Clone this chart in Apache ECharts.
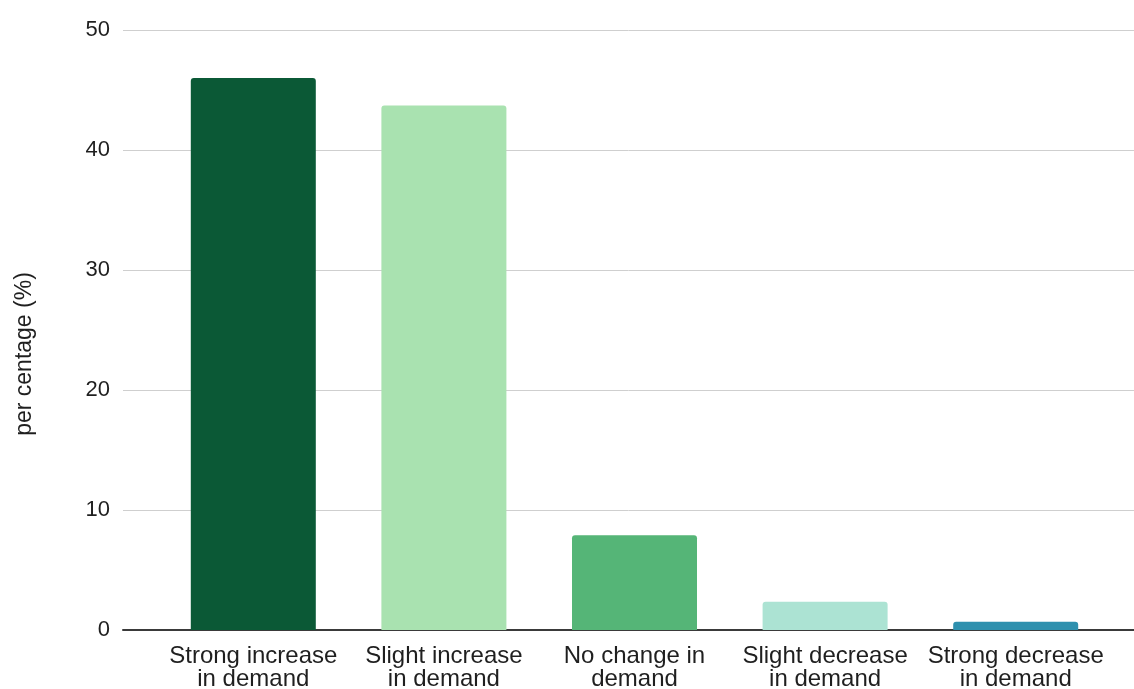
<!DOCTYPE html>
<html>
<head>
<meta charset="utf-8">
<script src="https://cdn.jsdelivr.net/npm/echarts@6/dist/echarts.min.js"></script>
<style>
  html, body { margin: 0; padding: 0; background: #fff; }
  #chart { width: 1134px; height: 689px; }
</style>
</head>
<body>
<div id="chart"></div>
<script>
// Change in demand, share of respondents (%)
const categories = [
  'Strong increase\nin demand',
  'Slight increase\nin demand',
  'No change in\ndemand',
  'Slight decrease\nin demand',
  'Strong decrease\nin demand'
];
const shares = [46.0, 43.7, 7.9, 2.35, 0.68];
const barColors = ['#0b5936', '#a9e2b0', '#55b577', '#ace3d3', '#2e90ae'];
const yTicks = { min: 0, max: 50, interval: 10 };
const yTitle = 'per centage (%)';

const FONT = '"Liberation Sans", Arial, sans-serif';

const chart = echarts.init(document.getElementById('chart'), null, { renderer: 'canvas' });

chart.setOption({
  animation: false,
  backgroundColor: '#ffffff',
  textStyle: { fontFamily: FONT },
  grid: [
    // full-width frame: gridlines and baseline
    { left: 123, right: 0, top: 30, bottom: 59, outerBoundsMode: 'none', containLabel: false },
    // bar band
    { left: 158, right: 23, top: 30, bottom: 59, outerBoundsMode: 'none', containLabel: false }
  ],
  xAxis: [
    {
      gridIndex: 0, type: 'value', min: 0, max: 1,
      axisLine: { show: true, onZero: false, lineStyle: { color: '#3a3a3a', width: 2 } },
      axisTick: { show: false }, axisLabel: { show: false }, splitLine: { show: false }
    },
    {
      gridIndex: 1, type: 'category', data: categories,
      axisLine: { show: false }, axisTick: { show: false },
      axisLabel: {
        interval: 0, margin: 15, fontSize: 24, lineHeight: 23,
        color: '#1f1f1f', fontFamily: FONT, align: 'center'
      }
    }
  ],
  yAxis: [
    {
      gridIndex: 0, type: 'value', min: yTicks.min, max: yTicks.max, interval: yTicks.interval,
      axisLine: { show: false }, axisTick: { show: false },
      axisLabel: { fontSize: 22, color: '#1f1f1f', margin: 13, fontFamily: FONT },
      splitLine: { show: true, lineStyle: { color: '#cfcfcf', width: 1 } }
    },
    {
      gridIndex: 1, type: 'value', min: yTicks.min, max: yTicks.max, interval: yTicks.interval,
      show: false, splitLine: { show: false }
    }
  ],
  graphic: [
    {
      type: 'text',
      x: 25, y: 354,
      rotation: Math.PI / 2,
      style: {
        text: yTitle,
        fontSize: 23,
        fontFamily: FONT,
        fill: '#1f1f1f',
        align: 'center',
        verticalAlign: 'middle'
      }
    }
  ],
  series: [
    {
      type: 'bar',
      xAxisIndex: 1, yAxisIndex: 1,
      barWidth: 125,
      data: shares.map((v, i) => ({
        value: v,
        itemStyle: { color: barColors[i], borderRadius: [3, 3, 0, 0] }
      })),
      z: 3
    }
  ]
});
</script>
</body>
</html>
